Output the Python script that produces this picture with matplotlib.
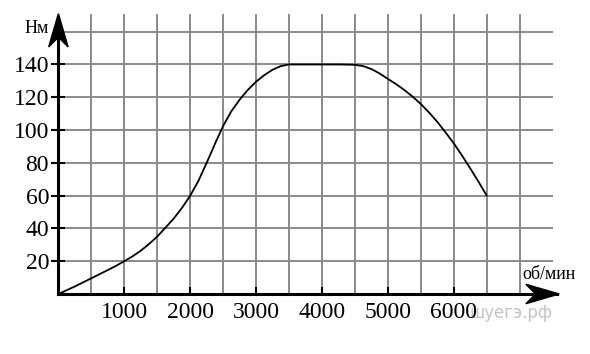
import numpy as np
import matplotlib
matplotlib.use("Agg")
import matplotlib.pyplot as plt
from matplotlib.patches import Polygon
from matplotlib import transforms

# torque curve (rpm, Nm)
rpm = [0, 125, 250, 375, 500, 625, 750, 875, 1000, 1125, 1250, 1375, 1500,
       1625, 1750, 1875, 2000, 2125, 2250, 2375, 2500, 2625, 2750, 2875, 3000,
       3125, 3250, 3375, 3500, 3750, 4000, 4250, 4500, 4625, 4750, 4875, 5000,
       5125, 5250, 5375, 5500, 5625, 5750, 5875, 6000, 6125, 6250, 6375, 6500]
torque = [0, 2.3, 4.6, 7.1, 9.6, 12.1, 14.6, 17.2, 20, 23, 26.4, 30.5, 35,
          40.5, 46, 52.5, 60, 69, 80, 91.5, 102.5, 111.5, 118.5, 124.5, 129.5,
          133.5, 136.8, 139, 140, 140, 140, 140, 139.8, 139, 137.2, 134.5, 131.2,
          128, 124.4, 120.4, 115.9, 110.7, 105, 98.6, 91.9, 84.5, 76.6, 68.5, 60]

x_ticks = [1000, 2000, 3000, 4000, 5000, 6000]
y_ticks = [20, 40, 60, 80, 100, 120, 140]
x_grid = np.arange(500, 7001, 500)
y_grid = np.arange(20, 161, 20)

plt.rcParams['font.family'] = ['Liberation Serif', 'DejaVu Serif']

fig = plt.figure(figsize=(5.9, 3.54), dpi=100)
ax = fig.add_axes([58.4 / 590, 60 / 354, 500.8 / 590, 282 / 354])
ax.set_xlim(0, 7600)
ax.set_ylim(0, 172)
for s in ax.spines.values():
    s.set_visible(False)

gc = '#8a8a8a'
ax.vlines(x_grid, 0, 171, color=gc, lw=1.4, zorder=1)
ax.hlines(y_grid, 0, 7500, color=gc, lw=1.4, zorder=1)

ax.plot(rpm, torque, color='black', lw=1.3, zorder=3)

# axis lines
ax.plot([0, 7560], [0, 0], color='black', lw=2.2, clip_on=False, zorder=4)
ax.plot([0, 0], [0, 169], color='black', lw=2.2, clip_on=False, zorder=4)


def head(x, y, ang):
    # stealth arrow head, size in points
    pts = np.array([[0, 0], [-24, 7], [-17, 0], [-24, -7]])
    c, s = np.cos(ang), np.sin(ang)
    pts = pts @ np.array([[c, s], [-s, c]])
    base = ax.transData.transform((x, y))
    p = Polygon(pts, closed=True, color='black', clip_on=False, zorder=5,
                transform=transforms.Affine2D().scale(fig.dpi / 72).translate(*base))
    fig.add_artist(p)


head(7600, 0, 0)
head(0, 171, np.pi / 2)

ax.set_xticks(x_ticks)
ax.set_xticklabels([str(v) for v in x_ticks])
ax.set_yticks(y_ticks)
ax.set_yticklabels([str(v) for v in y_ticks])
ax.tick_params(axis='x', direction='in', length=5, width=1.5, labelsize=17, pad=6)
ax.tick_params(axis='y', direction='inout', length=9.5, width=1.5, labelsize=17, pad=2)

ax.annotate('Нм', xy=(0, 159), xytext=(-7, 0), textcoords='offset points',
            fontsize=13, ha='right', va='baseline', annotation_clip=False)
ax.text(7450, 9, 'об/мин', fontsize=13, ha='center', va='baseline', clip_on=False)
ax.text(7500, -11.5, 'шуегэ.рф', fontsize=12, ha='right', va='center',
        color='#c4c4c4', family='DejaVu Sans', clip_on=False, zorder=0)

fig.savefig('out.png', dpi=100)
